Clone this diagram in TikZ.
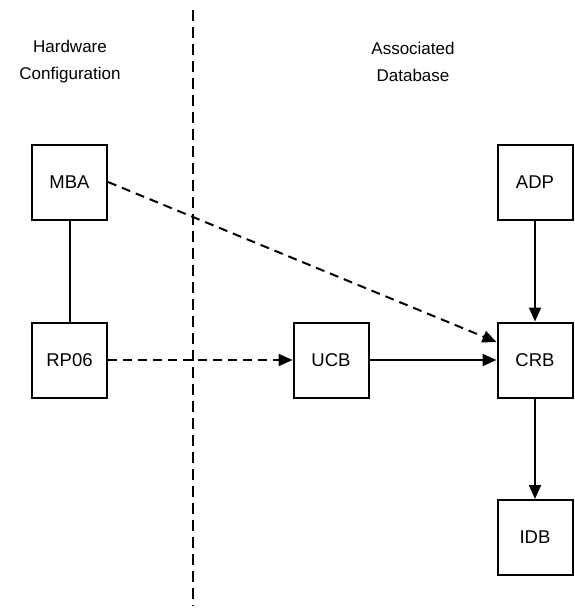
\documentclass[tikz,border=0pt]{standalone}
\usepackage{fontspec}
\setmainfont{Liberation Sans}
\usetikzlibrary{arrows.meta}
\begin{document}
\begin{tikzpicture}[x=1pt,y=-1pt,
  box/.style={draw,line width=2pt,minimum width=75pt,minimum height=75pt,inner sep=0pt,font=\fontsize{18.5}{22}\selectfont},
  lbl/.style={align=center,font=\fontsize{17}{27}\selectfont},
  conn/.style={line width=2pt},
  arr/.style={conn,-{Triangle[length=14pt,width=12pt]}},
  dsh/.style={dash pattern=on 9pt off 6pt}
]
\useasboundingbox (0,0) rectangle (575,608);
\node[lbl] (hw) at (70,62) {Hardware\\Configuration};
\node[lbl] (db) at (413,62) {Associated\\Database};
\coordinate (dtop) at (193,10);
\coordinate (dbot) at (193,606);
\draw[conn,dash pattern=on 11pt off 6pt] (dtop) -- (dbot);
\node[box] (MBA) at (69.5,182) {MBA};
\node[box] (RP06) at (69.5,360) {RP06};
\node[box] (UCB) at (331,360) {UCB};
\node[box] (CRB) at (535,360) {CRB};
\node[box] (ADP) at (535,182) {ADP};
\node[box] (IDB) at (535,537.5) {IDB};
\draw[conn] (MBA) -- (RP06);
\draw[arr,dsh] (MBA.east) -- ([yshift=18pt]CRB.west);
\draw[arr,dsh] (RP06) -- (UCB);
\draw[arr] (UCB) -- (CRB);
\draw[arr] (ADP) -- (CRB);
\draw[arr] (CRB) -- (IDB);
\end{tikzpicture}
\end{document}
